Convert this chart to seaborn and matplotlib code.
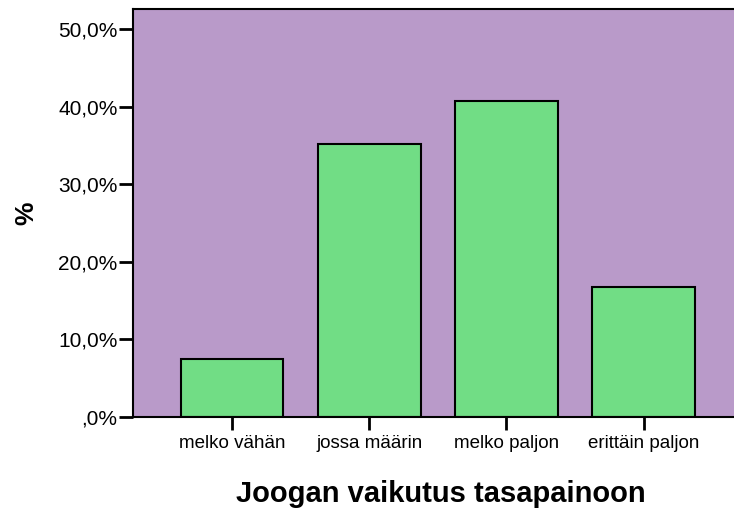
import matplotlib
matplotlib.use("Agg")
import matplotlib.pyplot as plt
import seaborn as sns
from matplotlib.ticker import FuncFormatter

# Data
categories = ["melko vähän", "jossa määrin", "melko paljon", "erittäin paljon"]
percent = [7.4, 35.2, 40.7, 16.7]
y_ticks = [0, 10, 20, 30, 40, 50]

sns.set_style("white")
plt.rcParams['font.family'] = ['Liberation Sans', 'DejaVu Sans']
plt.rcParams['text.color'] = 'black'
plt.rcParams['axes.labelcolor'] = 'black'

fig = plt.figure(figsize=(7.34, 5.09), dpi=100)
ax = fig.add_axes([0.1808, 0.1812, 0.8192, 0.8011])
ax.set_facecolor("#B99AC9")

sns.barplot(x=categories, y=percent, color="#71DD85", saturation=1,
            width=0.75, edgecolor="black", linewidth=1.5, ax=ax)

ax.set_xlim(-0.724, 3.659)
ax.set_ylim(0, 52.6)
ax.set_yticks(y_ticks)

def fi_percent(v, pos):
    s = f"{v:.1f}".replace('.', ',')
    if s.startswith("0,"):
        s = s[1:]
    return s + "%"

ax.yaxis.set_major_formatter(FuncFormatter(fi_percent))

for side in ["left", "bottom", "top"]:
    ax.spines[side].set_color("black")
    ax.spines[side].set_linewidth(1.5)
ax.spines["right"].set_visible(False)

ax.tick_params(axis='y', which='major', left=True, length=10, width=2,
               pad=1, labelsize=15, colors='black')
ax.tick_params(axis='x', which='major', bottom=True, length=9, width=2,
               pad=4, labelsize=13.5, colors='black')

ax.set_xlabel("Joogan vaikutus tasapainoon", fontsize=21, fontweight='bold', labelpad=20)
ax.xaxis.label.set_x(0.512)
ax.set_ylabel("%", fontsize=19, fontweight='bold', labelpad=14)

plt.savefig("out.png", dpi=100)
plt.close()
